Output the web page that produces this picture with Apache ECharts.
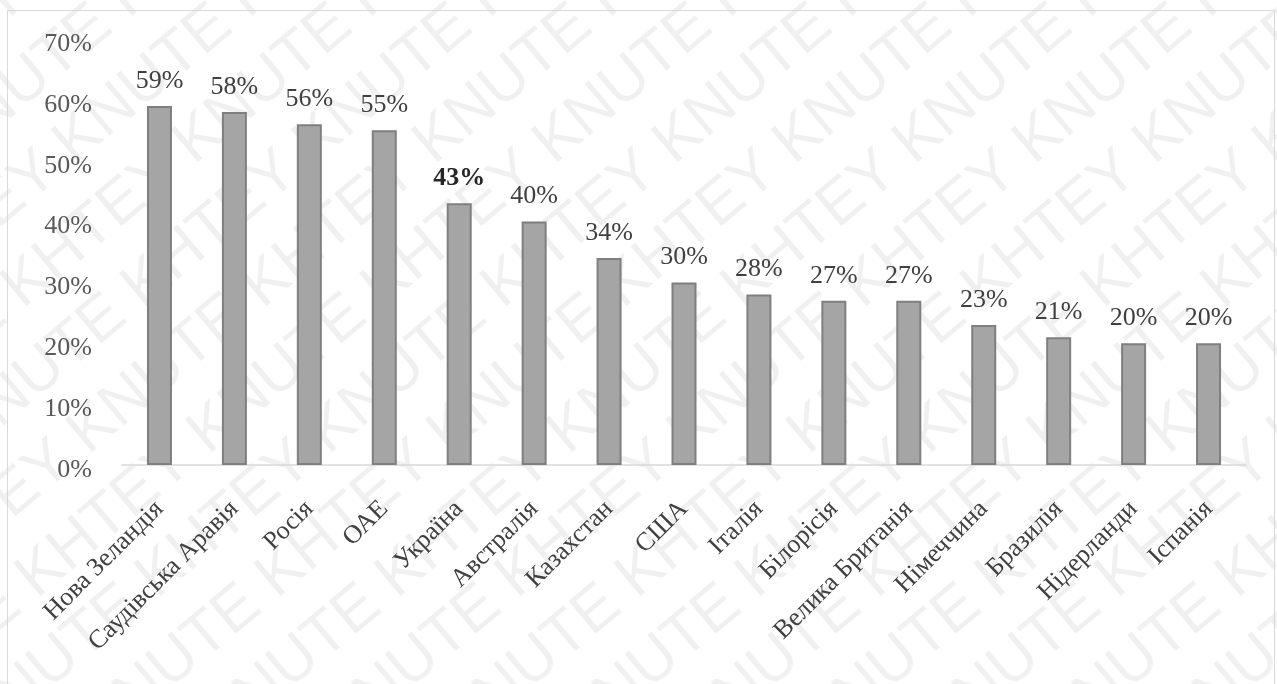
<!DOCTYPE html>
<html>
<head>
<meta charset="utf-8">
<script src="https://cdn.jsdelivr.net/npm/echarts@6/dist/echarts.min.js"></script>
<style>html,body{margin:0;padding:0;background:#fff;}#c{width:1277px;height:684px;}</style>
</head>
<body>
<div id="c"></div>
<script>
const categories = ['Нова Зеландія','Саудівська Аравія','Росія','ОАЕ','Україна','Австралія','Казахстан','США','Італія','Білорісія','Велика Британія','Німеччина','Бразилія','Нідерланди','Іспанія'];
const values = [59,58,56,55,43,40,34,30,28,27,27,23,21,20,20];
const highlight = 'Україна';
const yTicks = [0,10,20,30,40,50,60,70];
const watermarkWord = 'KHTEY KNUTE ';

const chart = echarts.init(document.getElementById('c'), null, {renderer:'canvas'});
const serif = '"Liberation Serif", "Times New Roman", serif';

// watermark rows
const wm = [];
const rowText = watermarkWord.repeat(8);
for (let i = -6; i < 14; i++) {
  wm.push({
    type:'text', silent:true, z:-10,
    x: -300 + i*120, y: 900,
    rotation: Math.PI*40/180,
    style:{text: rowText, font:'62px "Liberation Sans", Arial, sans-serif', fill:'rgba(0,0,0,0.06)', textVerticalAlign:'bottom'}
  });
}

chart.setOption({
  animation:false,
  backgroundColor:'#fff',
  graphic: [
    ...wm,
    {type:'rect', silent:true, z:-5, shape:{x:7.5,y:10.5,width:1267,height:700}, style:{fill:null, stroke:'#d9d9d9', lineWidth:1}}
  ],
  grid:{left:122, right:31, top:39, bottom:219, containLabel:false},
  xAxis:{
    type:'category', data:categories,
    axisLine:{show:true, lineStyle:{color:'#d9d9d9', width:1.5}},
    axisTick:{show:false},
    axisLabel:{rotate:45, interval:0, margin:40, padding:[20,0,0,0], color:'#404040', fontFamily:serif, fontSize:26}
  },
  yAxis:{
    type:'value', min:yTicks[0], max:yTicks[yTicks.length-1], interval:yTicks[1]-yTicks[0],
    axisLine:{show:false}, axisTick:{show:false},
    splitLine:{show:false},
    axisLabel:{
      formatter:(v)=>'{a|'+v+'%}',
      margin:30,
      rich:{a:{color:'#595959', fontFamily:serif, fontSize:26, padding:[10,0,0,0]}}
    }
  },
  series:[{
    type:'bar', barWidth:25,
    data: values.map((v,i)=>({
      value:v,
      label: categories[i]===highlight ? {fontWeight:'bold', color:'#262626'} : undefined
    })),
    itemStyle:{color:'#a5a5a5', borderColor:'#7f7f7f', borderWidth:2},
    label:{show:true, position:'top', distance:12, formatter:'{c}%', color:'#404040', fontFamily:serif, fontSize:26}
  }]
});
</script>
</body>
</html>
